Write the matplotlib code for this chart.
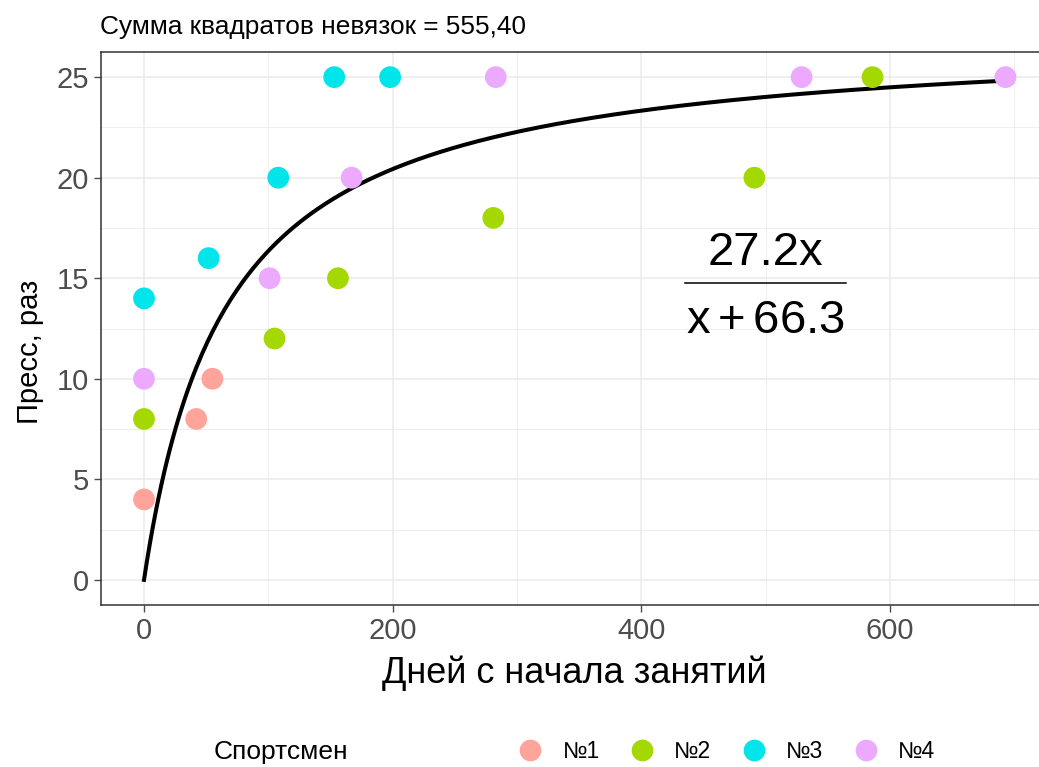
import numpy as np
import matplotlib
matplotlib.use("Agg")
import matplotlib.pyplot as plt
import matplotlib.transforms as mtransforms
from matplotlib.lines import Line2D
from matplotlib.ticker import MultipleLocator

plt.rcParams["font.family"] = ["Liberation Sans", "DejaVu Sans"]
plt.rcParams["mathtext.fontset"] = "custom"
plt.rcParams["mathtext.rm"] = "Liberation Sans"
plt.rcParams["mathtext.it"] = "Liberation Sans"

# Данные по спортсменам: дни с начала занятий и пресс (раз)
athletes = ["№1", "№2", "№3", "№4"]
colors = ["#FFA39B", "#A3D900", "#00E5EA", "#EBAAFF"]
days = [
    [0, 42, 55],
    [0, 105, 156, 281, 491, 586],
    [0, 52, 108, 153, 198],
    [0, 101, 167, 283, 529, 693],
]
press = [
    [4, 8, 10],
    [8, 12, 15, 18, 20, 25],
    [14, 16, 20, 25, 25],
    [10, 15, 20, 25, 25, 25],
]

# Параметры модели y = a*x / (x + b)
a_fit = 27.2
b_fit = 66.3
x_max = 693
sse_text = "Сумма квадратов невязок = 555,40"

W, H = 1039, 767
fig = plt.figure(figsize=(W / 100, H / 100), dpi=100)
ax = fig.add_axes([101 / W, 162 / H, 947 / W, 553 / H])

xs = np.linspace(0, x_max, 300)
ax.plot(xs, a_fit * xs / (xs + b_fit), color="black", lw=2.9, zorder=3)

for name, col, dx, py in zip(athletes, colors, days, press):
    ax.scatter(dx, py, s=245, color=col, edgecolors="none", zorder=4, label=name)

# формула модели в виде дроби
fx, fy = 500, 14.75
ax.text(fx, fy, f"{a_fit}x", fontsize=34, ha="center", va="baseline", zorder=5,
        transform=mtransforms.offset_copy(ax.transData, fig=fig, x=0, y=18.4, units="dots"))
ax.text(fx, fy, rf"$\mathrm{{x}}+{b_fit}$", fontsize=34, ha="center", va="baseline", zorder=5,
        transform=mtransforms.offset_copy(ax.transData, fig=fig, x=0, y=-50, units="dots"))
anchor = mtransforms.ScaledTranslation(fx, fy, ax.transData)
ax.add_line(Line2D([-0.805, 0.805], [0, 0], color="black", lw=1.1,
                   transform=fig.dpi_scale_trans + anchor))

ax.set_xlim(-34.6, 727.2)
ax.set_ylim(-1.25, 26.25)
ax.xaxis.set_major_locator(MultipleLocator(200))
ax.xaxis.set_minor_locator(MultipleLocator(100))
ax.yaxis.set_major_locator(MultipleLocator(5))
ax.yaxis.set_minor_locator(MultipleLocator(2.5))
ax.grid(which="major", color="#EBEBEB", lw=1.1)
ax.grid(which="minor", color="#EBEBEB", lw=0.6)
ax.set_axisbelow(True)
ax.tick_params(which="major", labelsize=21, colors="#4D4D4D", length=5, width=1)
ax.tick_params(which="minor", length=0)
for side in ax.spines:
    ax.spines[side].set_color("#333333")
    ax.spines[side].set_linewidth(1.1)

ax.set_xlabel("Дней с начала занятий", fontsize=26, va="top")
ax.xaxis.set_label_coords(0.5, -0.092)
ax.set_ylabel("Пресс, раз", fontsize=21)
ax.yaxis.set_label_coords(-0.06, 0.4575)

fig.text(100 / W, 1 - 27 / H, sse_text, fontsize=18.9, ha="left", va="center")

fig.text(214 / W, 1 - 752 / H, "Спортсмен", fontsize=19, va="center", ha="left")
handles = [Line2D([], [], marker="o", ls="none", markersize=15.6, markerfacecolor=c,
                  markeredgecolor="none") for c in colors]
fig.legend(handles, athletes, loc="center left", bbox_to_anchor=(519 / W, 1 - 752 / H),
           ncol=4, frameon=False, fontsize=16.5, handletextpad=0.9, columnspacing=1.35,
           handlelength=1.0, borderpad=0, borderaxespad=0)

fig.savefig("out.png", dpi=100)
